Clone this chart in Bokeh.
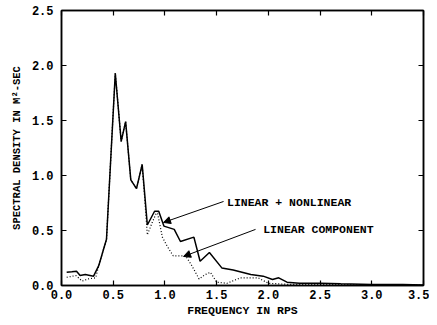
from bokeh.plotting import figure
from bokeh.models import (LinearAxis, FixedTicker, NumeralTickFormatter, Range1d,
                          Arrow, NormalHead, Label, CustomJSTickFormatter)
from bokeh.embed import file_html
from bokeh.resources import INLINE

# ---- data ----
freq_total = [0.05, 0.10, 0.145, 0.18, 0.23, 0.31, 0.36, 0.435, 0.52, 0.577, 0.62,
              0.67, 0.725, 0.78, 0.83, 0.90, 0.94, 0.99, 1.09, 1.15, 1.28, 1.34,
              1.43, 1.55, 1.66, 1.83, 1.95, 2.04, 2.10, 2.18, 2.3, 2.5, 2.7, 3.0,
              3.3, 3.5]
psd_total = [0.12, 0.125, 0.13, 0.09, 0.10, 0.085, 0.18, 0.42, 1.93, 1.31, 1.49,
             0.96, 0.88, 1.10, 0.55, 0.675, 0.675, 0.54, 0.51, 0.40, 0.44, 0.22,
             0.30, 0.16, 0.14, 0.10, 0.085, 0.055, 0.07, 0.03, 0.02, 0.02, 0.015,
             0.01, 0.01, 0.005]

freq_linear = [0.05, 0.14, 0.20, 0.26, 0.33, 0.36, 0.435, 0.52, 0.577, 0.62, 0.67,
               0.725, 0.78, 0.83, 0.88, 0.925, 0.975, 1.02, 1.08, 1.20, 1.26, 1.33,
               1.39, 1.44, 1.50, 1.60, 1.73, 1.90, 2.0, 2.2, 2.5, 3.0, 3.5]
psd_linear = [0.075, 0.09, 0.04, 0.06, 0.07, 0.18, 0.42, 1.93, 1.31, 1.49, 0.96,
              0.88, 1.10, 0.46, 0.58, 0.675, 0.44, 0.36, 0.27, 0.27, 0.18, 0.06,
              0.10, 0.12, 0.03, 0.02, 0.07, 0.07, 0.02, 0.01, 0.01, 0.005, 0.003]

x_ticks = [0.0, 0.5, 1.0, 1.5, 2.0, 2.5, 3.0, 3.5]
y_ticks = [0.0, 0.5, 1.0, 1.5, 2.0, 2.5]

label_total = "LINEAR + NONLINEAR"
label_linear = "LINEAR COMPONENT"
# annotation anchors (data units): text position, arrow start, arrow end
ann_total = dict(tx=1.60, ty=0.755, x0=1.567, y0=0.764, x1=0.986, y1=0.573)
ann_linear = dict(tx=1.95, ty=0.51, x0=1.876, y0=0.51, x1=1.18, y1=0.264)

FONT = "Liberation Mono"

p = figure(width=429, height=319, output_backend="svg", toolbar_location=None,
           x_range=Range1d(0, 3.5), y_range=Range1d(0, 2.5),
           min_border_left=61, min_border_right=6, min_border_top=10,
           min_border_bottom=34)
p.grid.visible = False
p.outline_line_color = "black"
p.outline_line_width = 1.5
p.background_fill_color = "white"
p.border_fill_color = "white"

p.line(freq_total, psd_total, line_color="black", line_width=1.5)
p.line(freq_linear, psd_linear, line_color="black", line_width=1.2, line_dash="1 2")

def style_axis(ax, show_labels=True):
    ax.axis_line_width = 1.5
    ax.axis_line_color = "black"
    ax.major_tick_in = 5
    ax.major_tick_out = 0
    ax.minor_tick_in = 0
    ax.minor_tick_out = 0
    ax.major_tick_line_width = 1.2
    if show_labels:
        ax.major_label_text_font = FONT
        ax.major_label_text_font_style = "bold"
        ax.major_label_text_font_size = "12px"
        ax.major_label_text_color = "black"
        ax.axis_label_text_font = FONT
        ax.axis_label_text_font_style = "bold"
        ax.axis_label_text_font_size = "11.5px"
        ax.axis_label_text_color = "black"
    else:
        ax.formatter = CustomJSTickFormatter(code="return ''")
        ax.major_label_standoff = 0

p.xaxis.ticker = FixedTicker(ticks=x_ticks)
p.yaxis.ticker = FixedTicker(ticks=y_ticks)
p.xaxis.formatter = NumeralTickFormatter(format="0.0")
p.yaxis.formatter = NumeralTickFormatter(format="0.0")
p.xaxis.axis_label = "FREQUENCY IN RPS"
p.yaxis.axis_label = "SPECTRAL DENSITY IN M²-SEC"
style_axis(p.xaxis[0])
style_axis(p.yaxis[0])
p.yaxis.axis_label_text_font_size = "10.5px"
p.xaxis.major_label_standoff = 4
p.yaxis.major_label_standoff = 8
p.xaxis.axis_label_standoff = 2
p.yaxis.axis_label_standoff = 6

top = LinearAxis(ticker=FixedTicker(ticks=x_ticks))
right = LinearAxis(ticker=FixedTicker(ticks=y_ticks))
style_axis(top, False)
style_axis(right, False)
p.add_layout(top, "above")
p.add_layout(right, "right")

for txt, a in ((label_total, ann_total), (label_linear, ann_linear)):
    p.add_layout(Arrow(end=NormalHead(size=7, fill_color="black", line_color="black"),
                       x_start=a["x0"], y_start=a["y0"], x_end=a["x1"], y_end=a["y1"],
                       line_color="black", line_width=1))
    p.add_layout(Label(x=a["tx"], y=a["ty"], text=txt, text_font=FONT,
                       text_font_style="bold", text_font_size="11.5px",
                       text_baseline="middle", text_color="black"))

open("out.html", "w").write(file_html(p, INLINE))
